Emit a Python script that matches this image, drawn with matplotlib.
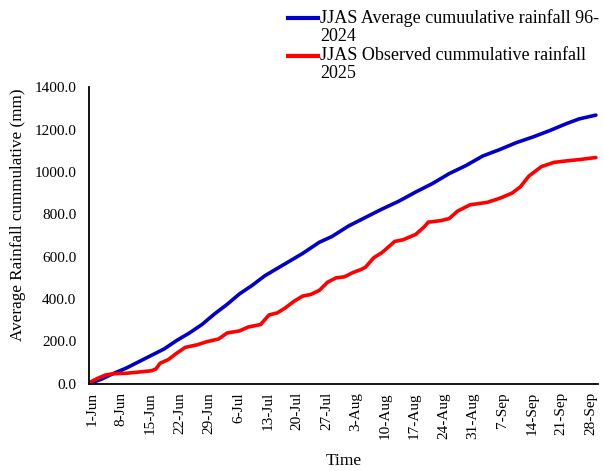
import numpy as np
import matplotlib
matplotlib.use("Agg")
import matplotlib.pyplot as plt
import matplotlib.transforms as mtransforms
from matplotlib.lines import Line2D
from matplotlib.ticker import FormatStrFormatter

plt.rcParams["font.family"] = ["Liberation Serif", "DejaVu Serif"]

# Days counted from 1 June (day 0) to 30 September (day 121)
avg_days = [0, 3, 6, 9, 12, 15, 18, 21, 24, 27, 30, 33, 36, 39, 42, 45, 48,
            51, 55, 58, 62, 66, 70, 74, 78, 82, 86, 90, 94, 98, 102, 106, 110,
            114, 117, 121]
avg_mm = [0, 22, 50, 75, 105, 135, 165, 205, 240, 280, 330, 375, 425, 465,
          510, 545, 580, 615, 668, 695, 745, 785, 825, 862, 905, 945, 992,
          1030, 1075, 1105, 1138, 1165, 1195, 1228, 1250, 1268]

obs_days = [0, 2, 4, 6, 9, 12, 15, 16, 17, 19, 21, 23, 26, 28, 31, 33, 36,
            38, 41, 43, 45, 47, 49, 51, 53, 55, 57, 59, 61, 63, 65, 66, 68,
            70, 73, 75, 78, 80, 81, 84, 86, 88, 91, 95, 98, 101, 103, 105,
            108, 111, 114, 117, 121]
obs_mm = [5, 25, 42, 48, 50, 56, 62, 70, 97, 115, 145, 172, 185, 198, 212,
          240, 250, 268, 280, 325, 335, 360, 390, 414, 422, 441, 480, 500,
          505, 525, 540, 550, 595, 620, 672, 680, 705, 740, 763, 770, 780,
          815, 845, 856, 875, 900, 930, 980, 1025, 1045, 1052, 1058, 1068]

tick_days = list(range(0, 122, 7))
tick_labels = ["1-Jun", "8-Jun", "15-Jun", "22-Jun", "29-Jun", "6-Jul",
               "13-Jul", "20-Jul", "27-Jul", "3-Aug", "10-Aug", "17-Aug",
               "24-Aug", "31-Aug", "7-Sep", "14-Sep", "21-Sep", "28-Sep"]

avg_label = "JJAS Average cumuulative rainfall 96-\n2024"
obs_label = "JJAS Observed cummulative rainfall\n2025"
blue = "#0000C8"
red = "#FF0000"

fig = plt.figure(figsize=(6.04, 4.71), dpi=100)
ax = fig.add_axes([0.147, 0.185, 0.843, 0.63])

ax.plot(avg_days, avg_mm, color=blue, lw=2.6, solid_capstyle="round")
ax.plot(obs_days, obs_mm, color=red, lw=2.6, solid_capstyle="round")

ax.set_xlim(0, 121.5)
ax.set_ylim(0, 1400)
ax.set_yticks(np.arange(0, 1401, 200))
ax.yaxis.set_major_formatter(FormatStrFormatter("%.1f"))
ax.set_xticks(tick_days)
ax.set_xticklabels(tick_labels, rotation=90)
ax.tick_params(axis="both", length=0, labelsize=11)
ax.tick_params(axis="y", pad=9)
ax.tick_params(axis="x", pad=6)

# nudge the rotated date labels a few pixels to the right
shift = mtransforms.ScaledTranslation(3 / 100, 0, fig.dpi_scale_trans)
for lbl in ax.get_xticklabels():
    lbl.set_transform(lbl.get_transform() + shift)

for side in ("top", "right"):
    ax.spines[side].set_visible(False)
for side in ("left", "bottom"):
    ax.spines[side].set_linewidth(1.3)

ax.set_ylabel("Average Rainfall cummulative (mm)", fontsize=12.3)
ax.yaxis.set_label_coords(-0.124, 0.571)
ax.set_xlabel("Time", fontsize=12.5, labelpad=10)

# legend entries drawn in figure coordinates, handle beside the first line
for y, color, label in [(0.962, blue, avg_label), (0.882, red, obs_label)]:
    fig.add_artist(Line2D([0.477, 0.527], [y, y], color=color, lw=3,
                          transform=fig.transFigure))
    fig.text(0.530, y + 0.019, label, fontsize=13, va="top", ha="left",
             linespacing=1.1)

fig.savefig("out.png", dpi=100)
